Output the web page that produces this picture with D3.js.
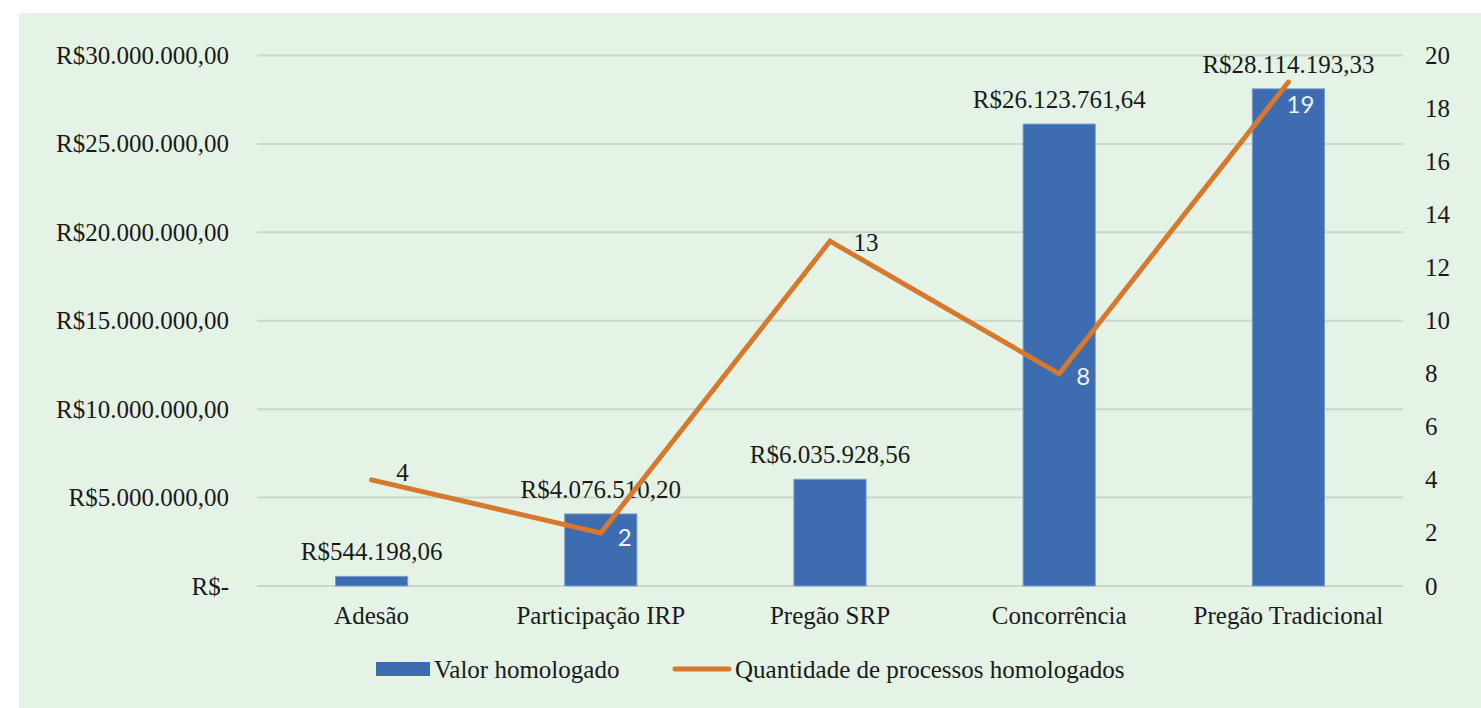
<!DOCTYPE html>
<html>
<head>
<meta charset="utf-8">
<script src="https://cdn.jsdelivr.net/npm/d3@7"></script>
<style>
  html, body { margin: 0; padding: 0; background: #ffffff; }
  svg { display: block; }
</style>
</head>
<body>
<svg id="chart" width="1481" height="708"></svg>
<script>
    const categories = ['Adesão', 'Participação IRP', 'Pregão SRP', 'Concorrência', 'Pregão Tradicional'];
    const valorHomologado = [544198.06, 4076510.20, 6035928.56, 26123761.64, 28114193.33];
    const qtdProcessos = [4, 2, 13, 8, 19];
    const leftTicks = [0, 5000000, 10000000, 15000000, 20000000, 25000000, 30000000];
    const rightTicks = [0, 2, 4, 6, 8, 10, 12, 14, 16, 18, 20];
    const seriesNames = ['Valor homologado', 'Quantidade de processos homologados'];

    const WIDTH = 1481;
    const HEIGHT = 708;
    const PLOT_LEFT = 257;
    const PLOT_RIGHT = 1403;
    const PLOT_TOP = 55.5;
    const PLOT_BOTTOM = 586;

    const COLOR_BG = '#e4f3e6';
    const COLOR_GRID = '#cad7cb';
    const COLOR_BAR = '#3d6cb0';
    const COLOR_BAR_EDGE = '#7c9fd0';
    const COLOR_LINE = '#d6792c';
    const COLOR_TEXT = '#1a1a1a';
    const SERIF = '"Liberation Serif", "Times New Roman", serif';
    const SANS = 'Lato, "Open Sans", sans-serif';
    const FONT_SIZE = 25;

    // R$ no formato brasileiro
    const brl = function (v) {
        if (v === 0) return 'R$-';
        let parts = v.toFixed(2).split('.');
        let intPart = parts[0].replace(/\B(?=(\d{3})+(?!\d))/g, '.');
        return 'R$' + intPart + ',' + parts[1];
    };

    const svg = d3.select('#chart');
    const g = svg.append('g');

    // fundo verde
    g.append('rect')
        .attr('x', 19).attr('y', 13)
        .attr('width', WIDTH - 19).attr('height', HEIGHT - 13)
        .attr('fill', COLOR_BG);

    const x = d3.scaleBand().domain(categories).range([PLOT_LEFT, PLOT_RIGHT]).padding(0);
    const yLeft = d3.scaleLinear().domain([0, 30000000]).range([PLOT_BOTTOM, PLOT_TOP]);
    const yRight = d3.scaleLinear().domain([0, 20]).range([PLOT_BOTTOM, PLOT_TOP]);
    const barWidth = x.bandwidth() * 0.315;

    // linhas de grade
    g.selectAll('.grid').data(leftTicks).enter().append('line')
        .attr('x1', PLOT_LEFT).attr('x2', PLOT_RIGHT)
        .attr('y1', d => yLeft(d)).attr('y2', d => yLeft(d))
        .attr('stroke', COLOR_GRID).attr('stroke-width', 2);

    // eixo esquerdo
    const axisLeft = g.append('g')
        .attr('transform', 'translate(' + 229 + ',0)')
        .call(d3.axisLeft(yLeft).tickValues(leftTicks).tickFormat(brl).tickSize(0).tickPadding(0));
    axisLeft.select('.domain').remove();
    axisLeft.selectAll('text')
        .attr('font-family', SERIF).attr('font-size', FONT_SIZE).attr('fill', COLOR_TEXT);

    // eixo direito
    const axisRight = g.append('g')
        .attr('transform', 'translate(' + 1425 + ',0)')
        .call(d3.axisRight(yRight).tickValues(rightTicks).tickSize(0).tickPadding(0));
    axisRight.select('.domain').remove();
    axisRight.selectAll('text')
        .attr('font-family', SERIF).attr('font-size', FONT_SIZE).attr('fill', COLOR_TEXT);

    // eixo das categorias
    const axisBottom = g.append('g')
        .attr('transform', 'translate(0,' + PLOT_BOTTOM + ')')
        .call(d3.axisBottom(x).tickSize(0).tickPadding(20));
    axisBottom.select('.domain').remove();
    axisBottom.selectAll('text')
        .attr('font-family', SERIF).attr('font-size', FONT_SIZE).attr('fill', COLOR_TEXT);

    // barras
    g.selectAll('.bar').data(valorHomologado).enter().append('rect')
        .attr('x', (d, i) => x(categories[i]) + x.bandwidth() / 2 - barWidth / 2)
        .attr('y', d => yLeft(d))
        .attr('width', barWidth)
        .attr('height', d => PLOT_BOTTOM - yLeft(d))
        .attr('fill', COLOR_BAR)
        .attr('stroke', COLOR_BAR_EDGE)
        .attr('stroke-width', 1);

    // rótulos das barras
    g.selectAll('.barLabel').data(valorHomologado).enter().append('text')
        .text(d => brl(d))
        .attr('x', (d, i) => x(categories[i]) + x.bandwidth() / 2)
        .attr('y', d => yLeft(d) - 16)
        .attr('text-anchor', 'middle')
        .attr('font-family', SERIF).attr('font-size', FONT_SIZE).attr('fill', COLOR_TEXT);

    // linha de quantidade
    const line = d3.line()
        .x((d, i) => x(categories[i]) + x.bandwidth() / 2)
        .y(d => yRight(d));
    g.append('path').datum(qtdProcessos)
        .attr('d', line)
        .attr('fill', 'none')
        .attr('stroke', COLOR_LINE)
        .attr('stroke-width', 5)
        .attr('stroke-linejoin', 'miter')
        .attr('stroke-linecap', 'round');

    // rótulos da linha (deslocamento manual como no original)
    const lineLabelOffsets = [
        { dx: 31, dy: -7, white: false },
        { dx: 24, dy: 4, white: true },
        { dx: 36, dy: 1, white: false },
        { dx: 24, dy: 2, white: true },
        { dx: 12, dy: 21, white: true }
    ];
    g.selectAll('.lineLabel').data(qtdProcessos).enter().append('text')
        .text(d => d)
        .attr('x', (d, i) => x(categories[i]) + x.bandwidth() / 2 + lineLabelOffsets[i].dx)
        .attr('y', (d, i) => yRight(d) + lineLabelOffsets[i].dy)
        .attr('text-anchor', 'middle')
        .attr('dominant-baseline', 'central')
        .attr('font-family', (d, i) => lineLabelOffsets[i].white ? SANS : SERIF)
        .attr('font-size', (d, i) => lineLabelOffsets[i].white ? 24 : FONT_SIZE)
        .attr('fill', (d, i) => lineLabelOffsets[i].white ? '#eef2fa' : COLOR_TEXT);

    // legenda
    const legend = g.append('g').attr('transform', 'translate(376,669)');
    legend.append('rect')
        .attr('x', 0).attr('y', -7).attr('width', 54).attr('height', 14)
        .attr('fill', COLOR_BAR);
    legend.append('text')
        .text(seriesNames[0])
        .attr('x', 58).attr('y', 0)
        .attr('dominant-baseline', 'central')
        .attr('font-family', SERIF).attr('font-size', FONT_SIZE).attr('fill', COLOR_TEXT);
    legend.append('line')
        .attr('x1', 299).attr('x2', 353).attr('y1', 0).attr('y2', 0)
        .attr('stroke', COLOR_LINE).attr('stroke-width', 5).attr('stroke-linecap', 'round');
    legend.append('text')
        .text(seriesNames[1])
        .attr('x', 359).attr('y', 0)
        .attr('dominant-baseline', 'central')
        .attr('font-family', SERIF).attr('font-size', FONT_SIZE).attr('fill', COLOR_TEXT);

    console.log('draw chart');
</script>
</body>
</html>
